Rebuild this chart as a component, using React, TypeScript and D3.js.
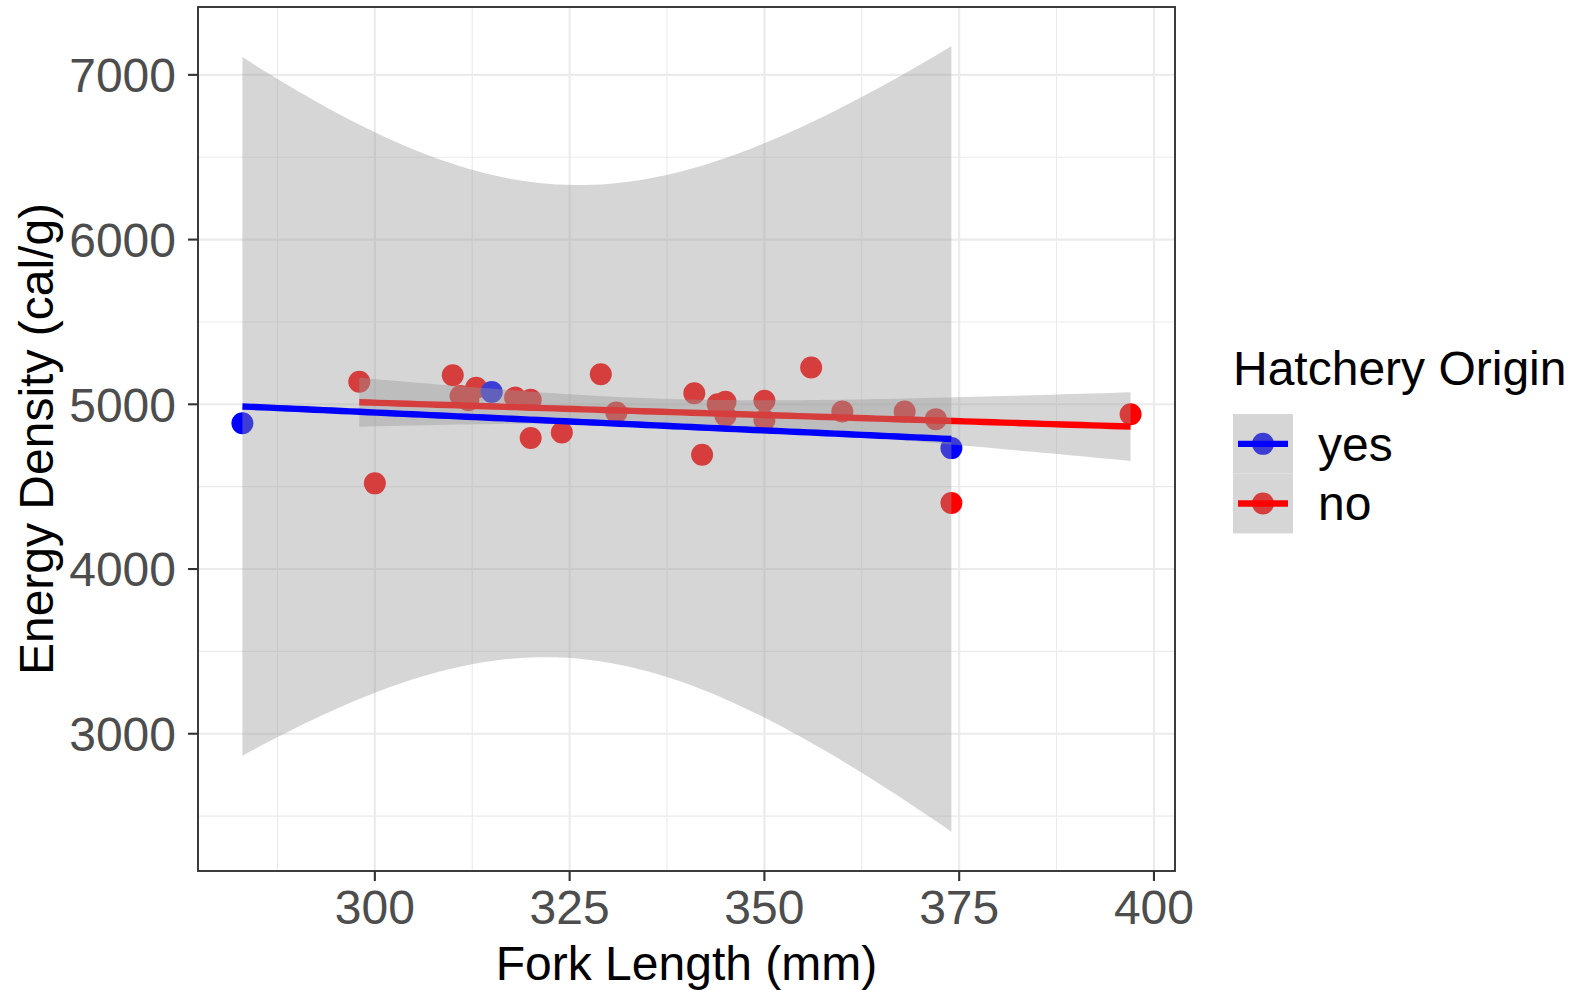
import React from "react";
import * as d3 from "d3";

// ---- data ----
const yesLength = [283, 315, 374];
const yesEnergy = [4885, 5075, 4734];

const noLength = [298, 300, 310, 311, 312, 313, 318, 320, 320, 324, 329, 331, 341, 342, 344, 345, 345, 350, 350, 356, 360, 368, 372, 374, 397];
const noEnergy = [5137, 4520, 5176, 5050, 5025, 5101, 5041, 5027, 4795, 4829, 5182, 4950, 5067, 4694, 5000, 5015, 4930, 5021, 4904, 5223, 4956, 4956, 4910, 4401, 4940];

const xTicks = [300, 325, 350, 375, 400];
const xMinor = [287.5, 312.5, 337.5, 362.5, 387.5];
const yTicks = [3000, 4000, 5000, 6000, 7000];
const yMinor = [2500, 3500, 4500, 5500, 6500];
const groupLabels = ["yes", "no"];
const groupColors = ["#0000ff", "#ff0000"];

// ---- stats helpers (lm with 95% CI, like geom_smooth(method = "lm")) ----
function lgamma(z: number): number {
  const g = 7;
  const c = [0.99999999999980993, 676.5203681218851, -1259.1392167224028, 771.32342877765313,
    -176.61502916214059, 12.507343278686905, -0.13857109526572012, 9.9843695780195716e-6, 1.5056327351493116e-7];
  if (z < 0.5) return Math.log(Math.PI / Math.sin(Math.PI * z)) - lgamma(1 - z);
  z -= 1;
  let x = c[0];
  for (let i = 1; i < g + 2; i++) x += c[i] / (z + i);
  const t = z + g + 0.5;
  return 0.5 * Math.log(2 * Math.PI) + (z + 0.5) * Math.log(t) - t + Math.log(x);
}
function betacf(a: number, b: number, x: number): number {
  const MAXIT = 300, EPS = 3e-14, FPMIN = 1e-300;
  const qab = a + b, qap = a + 1, qam = a - 1;
  let c = 1, d = 1 - (qab * x) / qap;
  if (Math.abs(d) < FPMIN) d = FPMIN;
  d = 1 / d;
  let h = d;
  for (let m = 1; m <= MAXIT; m++) {
    const m2 = 2 * m;
    let aa = (m * (b - m) * x) / ((qam + m2) * (a + m2));
    d = 1 + aa * d; if (Math.abs(d) < FPMIN) d = FPMIN;
    c = 1 + aa / c; if (Math.abs(c) < FPMIN) c = FPMIN;
    d = 1 / d; h *= d * c;
    aa = (-(a + m) * (qab + m) * x) / ((a + m2) * (qap + m2));
    d = 1 + aa * d; if (Math.abs(d) < FPMIN) d = FPMIN;
    c = 1 + aa / c; if (Math.abs(c) < FPMIN) c = FPMIN;
    d = 1 / d;
    const del = d * c;
    h *= del;
    if (Math.abs(del - 1) < EPS) break;
  }
  return h;
}
function ibeta(x: number, a: number, b: number): number {
  if (x <= 0) return 0;
  if (x >= 1) return 1;
  const bt = Math.exp(lgamma(a + b) - lgamma(a) - lgamma(b) + a * Math.log(x) + b * Math.log(1 - x));
  if (x < (a + 1) / (a + b + 2)) return (bt * betacf(a, b, x)) / a;
  return 1 - (bt * betacf(b, a, 1 - x)) / b;
}
function qt975(df: number): number {
  // find t with two-sided tail prob 0.05
  let lo = 0, hi = 1000;
  for (let i = 0; i < 200; i++) {
    const mid = (lo + hi) / 2;
    const tail = ibeta(df / (df + mid * mid), df / 2, 0.5);
    if (tail > 0.05) lo = mid; else hi = mid;
  }
  return (lo + hi) / 2;
}
function lmFit(xs: number[], ys: number[]) {
  const n = xs.length;
  const mx = d3.mean(xs)!, my = d3.mean(ys)!;
  let sxx = 0, sxy = 0;
  for (let i = 0; i < n; i++) { sxx += (xs[i] - mx) ** 2; sxy += (xs[i] - mx) * (ys[i] - my); }
  const slope = sxy / sxx;
  const icpt = my - slope * mx;
  let sse = 0;
  for (let i = 0; i < n; i++) sse += (ys[i] - (icpt + slope * xs[i])) ** 2;
  const s = Math.sqrt(sse / (n - 2));
  const tq = qt975(n - 2);
  const [x0, x1] = d3.extent(xs) as [number, number];
  const pts = d3.range(80).map((i) => {
    const x = x0 + ((x1 - x0) * i) / 79;
    const fit = icpt + slope * x;
    const se = s * Math.sqrt(1 / n + (x - mx) ** 2 / sxx);
    return { x, fit, lo: fit - tq * se, hi: fit + tq * se };
  });
  return pts;
}

const fits = [lmFit(yesLength, yesEnergy), lmFit(noLength, noEnergy)];

// ---- layout ----
const W = 1577, H = 990;
const P = { left: 198, right: 1175, top: 7, bottom: 871 };
const FONT = "'Liberation Sans', Arial, Helvetica, sans-serif";

export default function App() {
  const allX = [...yesLength, ...noLength];
  const [xmin, xmax] = d3.extent(allX) as [number, number];
  const xr = xmax - xmin;
  const x = d3.scaleLinear().domain([xmin - 0.05 * xr, xmax + 0.05 * xr]).range([P.left, P.right]);

  const allY = [
    ...yesEnergy, ...noEnergy,
    ...fits.flatMap((f) => f.map((p) => p.lo)), ...fits.flatMap((f) => f.map((p) => p.hi)),
  ];
  const [ymin, ymax] = d3.extent(allY) as [number, number];
  const yr = ymax - ymin;
  const y = d3.scaleLinear().domain([ymin - 0.05 * yr, ymax + 0.05 * yr]).range([P.bottom, P.top]);

  const area = d3.area<{ x: number; lo: number; hi: number }>()
    .x((d) => x(d.x)).y0((d) => y(d.lo)).y1((d) => y(d.hi));
  const line = d3.line<{ x: number; fit: number }>().x((d) => x(d.x)).y((d) => y(d.fit));

  const ribbonFill = "rgba(153,153,153,0.4)";
  const gridCol = "#ebebeb";

  const yesPts = yesLength.map((v, i) => ({ x: v, y: yesEnergy[i], g: 0 }));
  const noPts = noLength.map((v, i) => ({ x: v, y: noEnergy[i], g: 1 }));

  const legX = 1233, legTop = 414, keyH = 59.7, keyW = 60;

  return (
    <div style={{ position: "absolute", left: 0, top: 0, width: W, height: H, overflow: "hidden", background: "#fff" }}>
      <svg width={W} height={H} style={{ display: "block" }} fontFamily={FONT}>
        <rect x={0} y={0} width={W} height={H} fill="#fff" />
        <defs>
          <clipPath id="panel">
            <rect x={P.left} y={P.top} width={P.right - P.left} height={P.bottom - P.top} />
          </clipPath>
        </defs>
        {/* grid */}
        <g clipPath="url(#panel)">
          {yMinor.map((v) => (
            <line key={"ym" + v} x1={P.left} x2={P.right} y1={y(v)} y2={y(v)} stroke={gridCol} strokeWidth={1.1} />
          ))}
          {xMinor.map((v) => (
            <line key={"xm" + v} y1={P.top} y2={P.bottom} x1={x(v)} x2={x(v)} stroke={gridCol} strokeWidth={1.1} />
          ))}
          {yTicks.map((v) => (
            <line key={"yM" + v} x1={P.left} x2={P.right} y1={y(v)} y2={y(v)} stroke={gridCol} strokeWidth={2.1} />
          ))}
          {xTicks.map((v) => (
            <line key={"xM" + v} y1={P.top} y2={P.bottom} x1={x(v)} x2={x(v)} stroke={gridCol} strokeWidth={2.1} />
          ))}
          {/* points */}
          {[...noPts, ...yesPts].map((p, i) => (
            <circle key={"p" + i} cx={x(p.x)} cy={y(p.y)} r={11} fill={groupColors[p.g]} />
          ))}
          {/* smooths: "no" first, then "yes" */}
          {[1, 0].map((g) => (
            <g key={"s" + g}>
              <path d={area(fits[g]) || ""} fill={ribbonFill} />
              <path d={line(fits[g]) || ""} fill="none" stroke={groupColors[g]} strokeWidth={6.4} />
            </g>
          ))}
        </g>
        {/* panel border */}
        <rect x={P.left} y={P.top} width={P.right - P.left} height={P.bottom - P.top} fill="none" stroke="#333333" strokeWidth={1.9} />
        {/* x axis */}
        {xTicks.map((v) => (
          <g key={"xt" + v}>
            <line x1={x(v)} x2={x(v)} y1={P.bottom} y2={P.bottom + 10} stroke="#333333" strokeWidth={2.1} />
            <text x={x(v)} y={924} textAnchor="middle" fontSize={48} fill="#4d4d4d">{v}</text>
          </g>
        ))}
        {/* y axis */}
        {yTicks.map((v) => (
          <g key={"yt" + v}>
            <line x1={P.left - 10} x2={P.left} y1={y(v)} y2={y(v)} stroke="#333333" strokeWidth={2.1} />
            <text x={176} y={y(v)} dy="0.36em" textAnchor="end" fontSize={48} fill="#4d4d4d">{v}</text>
          </g>
        ))}
        <text x={(P.left + P.right) / 2} y={979.5} textAnchor="middle" fontSize={48} fill="#000">Fork Length (mm)</text>
        <text transform={`translate(53,${(P.top + P.bottom) / 2}) rotate(-90)`} textAnchor="middle" fontSize={48} fill="#000">
          Energy Density (cal/g)
        </text>
        {/* legend */}
        <text x={legX} y={385} fontSize={48} fill="#000">Hatchery Origin</text>
        {groupLabels.map((lab, i) => {
          const cy = legTop + keyH * i + keyH / 2;
          return (
            <g key={"lg" + lab}>
              <rect x={legX} y={legTop + keyH * i} width={keyW} height={keyH} fill="#fff" />
              <circle cx={legX + keyW / 2} cy={cy} r={11} fill={groupColors[i]} />
              <rect x={legX} y={legTop + keyH * i} width={keyW} height={keyH} fill={ribbonFill} />
              <line x1={legX + 5} x2={legX + keyW - 5} y1={cy} y2={cy} stroke={groupColors[i]} strokeWidth={6.4} />
              <text x={1318} y={cy} dy="0.35em" fontSize={48} fill="#000">{lab}</text>
            </g>
          );
        })}
      </svg>
    </div>
  );
}
